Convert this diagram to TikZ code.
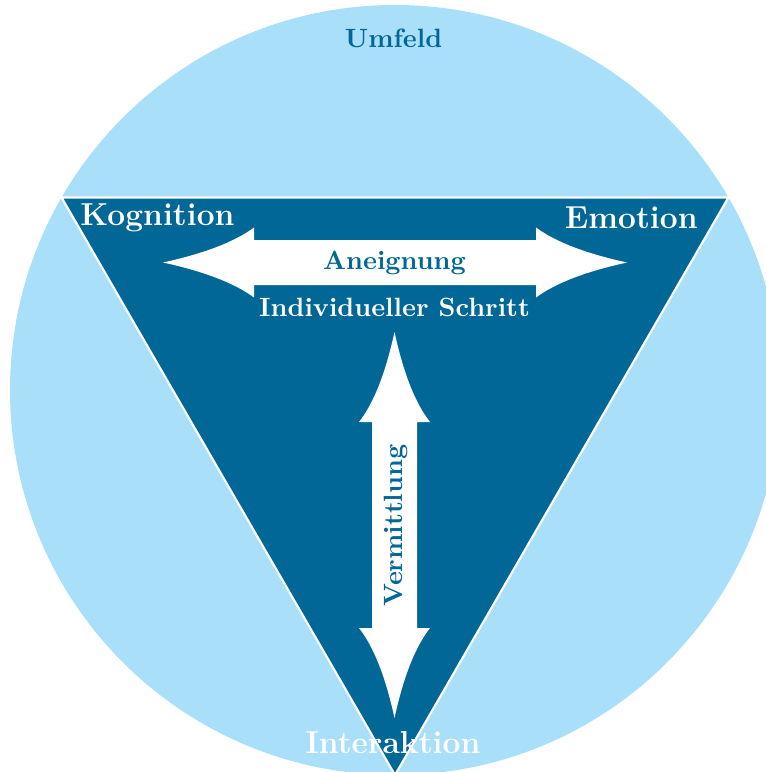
\documentclass[tikz,border=0pt]{standalone}
\usepackage{tikz}
\definecolor{lightbg}{RGB}{170,223,250}
\definecolor{darkbg}{RGB}{0,103,150}
\tikzset{
  bigwhite/.style={text=white,font=\large\bfseries,inner sep=0pt},
  smallwhite/.style={text=white,font=\normalsize\bfseries,inner sep=0pt},
  smalldark/.style={text=darkbg,font=\normalsize\bfseries,inner sep=0pt},
  arrowshape/.style={fill=white,draw=none}
}
\begin{document}
\begin{tikzpicture}[x=0.378pt,y=-0.378pt]
\useasboundingbox (0,0) rectangle (766,772);
\clip (0,0) rectangle (766,772);
% surrounding circle
\fill[lightbg] (395,390) circle[radius=385];
% inscribed triangle
\filldraw[fill=darkbg,draw=white,line width=0.8] (61.6,197.5) -- (728.4,197.5) -- (395,775) -- cycle;
% horizontal double arrow
\path[arrowshape] (163,262.5) .. controls (204.3,253.5) and (234.7,241.8) .. (254,227.5) -- (254,240) -- (536,240)
  -- (536,227.5) .. controls (555.3,241.8) and (585.7,253.5) .. (627,262.5)
  .. controls (585.7,271.5) and (555.3,283.2) .. (536,297.5)
  -- (536,285) -- (254,285) -- (254,297.5) .. controls (234.7,283.2) and (204.3,271.5) .. (163,262.5) -- cycle;
% vertical double arrow
\path[arrowshape] (394.5,332) .. controls (403.5,373.3) and (415.3,403.3) .. (430,422) -- (417,422) -- (417,628)
  -- (430,628) .. controls (415.3,646.7) and (403.5,676.7) .. (394.5,718)
  .. controls (385.5,676.7) and (373.7,646.7) .. (359,628)
  -- (372,628) -- (372,422) -- (359,422) .. controls (373.7,403.3) and (385.5,373.3) .. (394.5,332) -- cycle;
% labels
\node[smalldark] (umfeld) at (393.5,38.7) {Umfeld};
\node[bigwhite] (kognition) at (157.5,217.5) {Kognition};
\node[bigwhite] (emotion) at (631.3,217.5) {Emotion};
\node[smalldark] (aneignung) at (394.5,262.5) {Aneignung};
\node[smallwhite] (schritt) at (394.5,307.8) {Individueller Schritt};
\node[smalldark,rotate=90] (vermittlung) at (396,525.5) {Vermittlung};
\node[bigwhite] (interaktion) at (393,742.5) {Interaktion};
\end{tikzpicture}
\end{document}
